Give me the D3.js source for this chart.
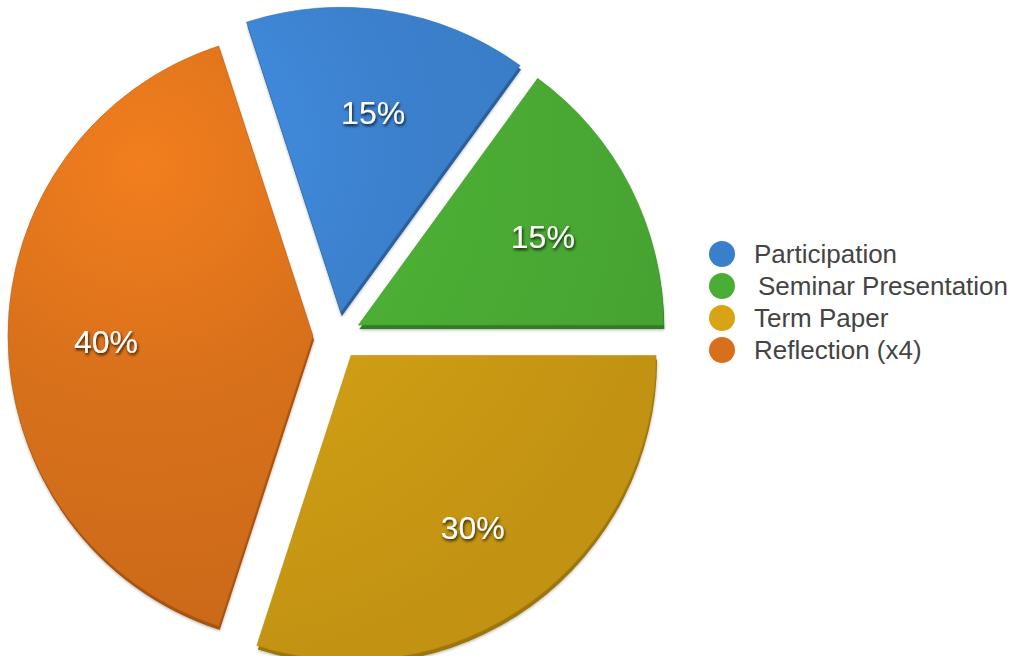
<!DOCTYPE html>
<html>
<head>
<meta charset="utf-8">
<script src="https://cdn.jsdelivr.net/npm/d3@7"></script>
<style>
  body { margin: 0; background: #fff; }
  svg { display: block; }
</style>
</head>
<body>
<script>
// data
const categories = ["Participation", "Seminar Presentation", "Term Paper", "Reflection (x4)"];
const values = [15, 15, 30, 40];
const colors = ["#3c81ce", "#4caf35", "#d09e14", "#d9711b"];
const sideColors = ["#2a5f9c", "#327d21", "#9c760c", "#a8520f"];
const legendColors = ["#3a7fcc", "#4aae35", "#d9a316", "#d96f1b"];

const width = 1013, height = 656;
const cx = 337, cy = 336, radius = 305, explode = 24;

const svg = d3.select("body").append("svg")
  .attr("width", width)
  .attr("height", height);

const defs = svg.append("defs");

// soft shadow for labels
const shadow = defs.append("filter").attr("id", "txtShadow")
  .attr("x", "-20%").attr("y", "-20%").attr("width", "140%").attr("height", "160%");
shadow.append("feDropShadow")
  .attr("dx", 1).attr("dy", 2).attr("stdDeviation", 1.4)
  .attr("flood-color", "#000").attr("flood-opacity", 0.8);

// edge shadow for the slices
const edge = defs.append("filter").attr("id", "edgeShadow")
  .attr("x", "-10%").attr("y", "-10%").attr("width", "120%").attr("height", "120%");
edge.append("feDropShadow")
  .attr("dx", 0).attr("dy", 1).attr("stdDeviation", 1.5)
  .attr("flood-color", "#000").attr("flood-opacity", 0.3);

// gradients are in the slice's own (translated) coordinates
colors.forEach(function(c, i) {
  let g = defs.append("radialGradient")
    .attr("id", "grad" + i)
    .attr("gradientUnits", "userSpaceOnUse")
    .attr("cx", -170).attr("cy", -170).attr("r", radius * 1.6);
  g.append("stop").attr("offset", "0%").attr("stop-color", d3.color(c).brighter(0.3));
  g.append("stop").attr("offset", "45%").attr("stop-color", c);
  g.append("stop").attr("offset", "100%").attr("stop-color", d3.color(c).darker(0.2));
});

const pie = d3.pie()
  .sort(null)
  .startAngle(-0.1 * Math.PI)
  .endAngle(1.9 * Math.PI);

const arc = d3.arc().innerRadius(0).outerRadius(radius);
const labelArc = d3.arc().innerRadius(207).outerRadius(207);

const arcs = pie(values);

function offset(d) {
  let a = (d.startAngle + d.endAngle) / 2;
  return [explode * Math.sin(a), -explode * Math.cos(a)];
}

const slices = svg.selectAll("g.slice")
  .data(arcs)
  .enter()
  .append("g")
  .attr("class", "slice")
  .attr("transform", function(d) {
    let o = offset(d);
    return "translate(" + (cx + o[0]) + "," + (cy + o[1]) + ")";
  });

// thin extruded side
slices.append("path")
  .attr("d", arc)
  .attr("transform", "translate(1,4)")
  .attr("fill", function(d, i) { return sideColors[i]; })
  .attr("filter", "url(#edgeShadow)");

// top face
slices.append("path")
  .attr("d", arc)
  .attr("fill", function(d, i) { return "url(#grad" + i + ")"; })
  .attr("stroke", function(d, i) { return d3.color(colors[i]).darker(0.4); })
  .attr("stroke-width", 0.6);

// percent labels
slices.append("text")
  .attr("transform", function(d) {
    let c = labelArc.centroid(d);
    return "translate(" + c[0] + "," + (c[1] + 5) + ")";
  })
  .attr("text-anchor", "middle")
  .attr("dy", "0.36em")
  .attr("fill", "#fff")
  .attr("font-family", "'Liberation Sans', Arial, Helvetica, sans-serif")
  .attr("font-size", 32)
  .attr("filter", "url(#txtShadow)")
  .text(function(d) { return d.data + "%"; });

// legend
const legend = svg.append("g").attr("transform", "translate(722,254)");

const items = legend.selectAll("g.item")
  .data(categories)
  .enter()
  .append("g")
  .attr("class", "item")
  .attr("transform", function(d, i) { return "translate(0," + (i * 32) + ")"; });

items.append("circle")
  .attr("r", 13)
  .attr("fill", function(d, i) { return legendColors[i]; });

items.append("text")
  .attr("x", function(d, i) { return i === 1 ? 36 : 32; })
  .attr("dy", "0.36em")
  .attr("fill", "#444")
  .attr("font-family", "'Liberation Sans', Arial, Helvetica, sans-serif")
  .attr("font-size", 26)
  .text(function(d) { return d; });
</script>
</body>
</html>
